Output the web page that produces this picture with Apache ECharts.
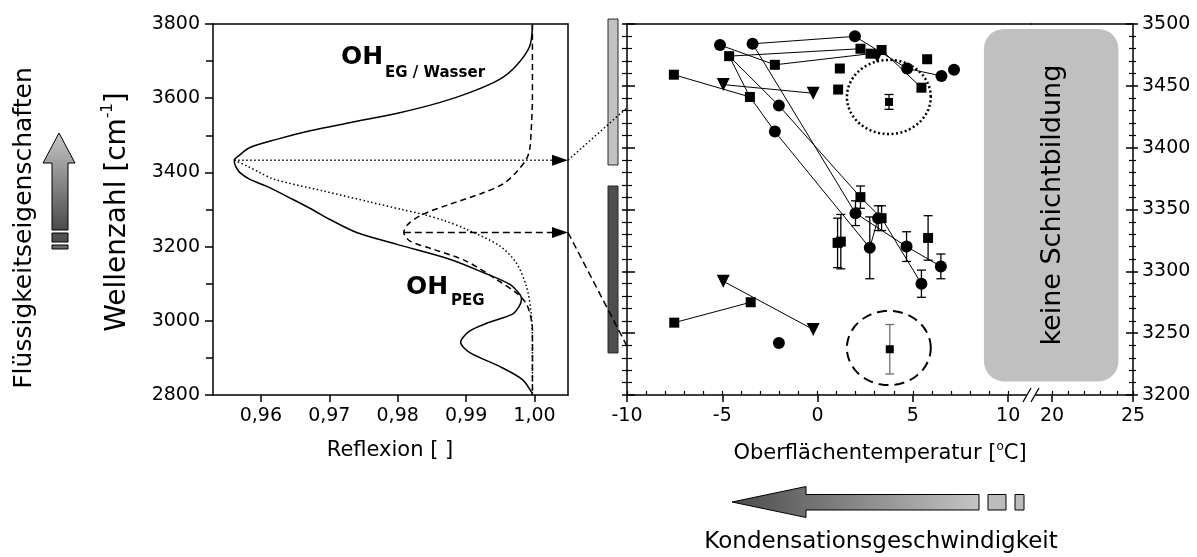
<!DOCTYPE html>
<html>
<head>
<meta charset="utf-8">
<script src="https://cdn.jsdelivr.net/npm/echarts@6/dist/echarts.min.js"></script>
<style>
html, body { margin: 0; padding: 0; background: #fff; }
#c { width: 1197px; height: 557px; }
</style>
</head>
<body>
<div id="c"></div>
<script>
const FONT = '"DejaVu Sans", Verdana, sans-serif';

// Reflection spectrum of the condensate film: [wavenumber cm^-1, reflectance]
const spectrumTotal = [
  [3800, 0.9997], [3740, 0.9993], [3687, 0.9973], [3651, 0.9949], [3615, 0.9905],
  [3588, 0.9861], [3561, 0.9803], [3534, 0.9730], [3512, 0.9672], [3489, 0.9623],
  [3467, 0.9584], [3444, 0.9567], [3433, 0.9561], [3417, 0.9563], [3400, 0.9569],
  [3381, 0.9584], [3363, 0.9608], [3327, 0.9647], [3300, 0.9675], [3273, 0.9701],
  [3238, 0.9740], [3206, 0.9799], [3166, 0.9876], [3131, 0.9924], [3098, 0.9964],
  [3070, 0.9979], [3058, 0.9981], [3040, 0.9978], [3018, 0.9968], [2996, 0.9934],
  [2972, 0.9905], [2942, 0.9892], [2915, 0.9905], [2877, 0.9949], [2842, 0.9982],
  [2807, 0.9996], [2800, 0.9997]
];
// OH band of PEG
const bandPEG = [
  [3800, 0.9997], [3600, 0.9997], [3507, 0.9995], [3462, 0.9993], [3435, 0.9988],
  [3400, 0.9973], [3370, 0.9955], [3345, 0.9925], [3314, 0.9876], [3287, 0.9837],
  [3260, 0.9815], [3238, 0.9809], [3215, 0.9818], [3193, 0.9852], [3161, 0.9900],
  [3112, 0.9944], [3076, 0.9973], [3049, 0.9987], [3022, 0.9993], [2977, 0.9997],
  [2800, 0.9997]
];
// OH band of the ethylene glycol / water phase
const bandEGWasser = [
  [3433, 0.9561], [3417, 0.9580], [3400, 0.9598], [3381, 0.9620], [3350, 0.9691],
  [3320, 0.9760], [3300, 0.9806], [3287, 0.9837], [3270, 0.9868], [3247, 0.9900],
  [3202, 0.9949], [3157, 0.9973], [3094, 0.9988], [3022, 0.9995], [2932, 0.9997],
  [2800, 0.9997]
];
const peakEGWasser = 3433;
const peakPEG = 3238;
const reflexTicks = [0.96, 0.97, 0.98, 0.99, 1.00];
const reflexRange = [0.953, 1.0049];
const wnRangeSpectrum = [2800, 3800];

// Band position vs. surface temperature: [id, T in °C, wavenumber, error]
const circles = [
  ['c1', -5.12, 3483, 0], ['c2', -3.41, 3484, 0], ['c3', 1.96, 3490, 0],
  ['c4', -2.03, 3434, 0], ['c5', -2.24, 3413, 0], ['c6', 4.70, 3464, 0],
  ['c7', 6.50, 3458, 0], ['c8', 7.16, 3463, 0], ['c9', 1.99, 3347, 10],
  ['c10', 3.18, 3343, 10], ['c11', 2.74, 3319, 25], ['c12', 4.67, 3320, 12],
  ['c13', 6.47, 3304, 10], ['c14', 5.45, 3290, 11], ['c15', -2.03, 3242, 0]
];
const squares = [
  ['s1', -4.64, 3474, 0], ['s2', -2.24, 3467, 0], ['s3', -7.54, 3459, 0],
  ['s4', -3.55, 3441, 0], ['s5', 2.25, 3480, 0], ['s6', 2.78, 3476, 0],
  ['s7', 3.36, 3479, 0], ['s8', 1.17, 3464, 0], ['s9', 1.08, 3447, 0],
  ['s10', 5.75, 3471.5, 0], ['s11', 5.45, 3448.5, 0], ['s12', 3.75, 3437, 6],
  ['s13', 2.25, 3360, 9], ['s14', 3.36, 3343, 10], ['s15', 1.05, 3323, 20],
  ['s16', 1.22, 3324, 22], ['s17', 5.80, 3327, 18], ['s18', -3.51, 3275, 0],
  ['s19', -7.52, 3258.5, 3], ['s20', 3.79, 3237, 20]
];
const triangles = [
  ['t1', -4.95, 3451, 0], ['t2', -0.23, 3444, 0], ['t3', 3.13, 3474, 0],
  ['t4', -4.95, 3292, 0], ['t5', -0.23, 3253, 0]
];
// Measurements belonging to the same run
const links = [
  ['c2', 'c3'], ['c1', 's2'], ['s2', 's6'], ['s1', 's5'], ['s3', 's4'], ['t1', 't2'],
  ['s1', 's4'], ['s1', 'c4'], ['s4', 'c5'], ['c2', 'c9'], ['c4', 's13'], ['c5', 'c11'],
  ['s13', 's14'], ['s14', 'c14'], ['c9', 'c12'], ['c12', 'c13'], ['c11', 'c10'],
  ['c3', 'c6'], ['c6', 'c7'], ['s7', 's11'], ['s19', 's18'], ['t4', 't5']
];
// Encircled single measurements: [T centre, wavenumber centre, half width T, half height wn]
const circledGroups = [[3.74, 3441, 2.2, 30], [3.74, 3238, 2.2, 30]];
// Wavenumber ranges of the two OH bands: [from, to]
const bandRanges = [[3386, 3504], [3234, 3369]];
// Region without layer formation: [T from, T to, wn from, wn to]
const noLayerRegion = [8.73, 24.1, 3211, 3496];

const tempRangeLow = [-10, 11.2];
const tempRangeHigh = [18.7, 25];
const tempTicksLow = [-10, -5, 0, 5, 10];
const tempMinorLow = [-10, -9, -8, -7, -6, -5, -4, -3, -2, -1, 0, 1, 2, 3, 4, 5, 6, 7, 8, 9, 10];
const tempTicksHigh = [20, 25];
const tempMinorHigh = [20, 21, 22, 23, 24, 25];
const wnRangeBands = [3200, 3500];

const smallMarkIds = ['s12', 's20'];
const greyErrorIds = ['s20'];

const pointById = {};
[circles, squares, triangles].forEach(list => list.forEach(p => { pointById[p[0]] = p; }));

const black = '#000';
const labelStyle = { color: black, fontFamily: FONT, fontSize: 19 };
const plainNumber = v => String(v);
const lineOnly = (extra) => Object.assign({
  axisLine: { show: true, onZero: false, lineStyle: { color: black, width: 1.5 } },
  axisTick: { show: false }, axisLabel: { show: false }, splitLine: { show: false }
}, extra);

const grids = [
  { left: 213, top: 24, width: 355, height: 371 },
  { left: 627, top: 24, width: 404, height: 371 },
  { left: 1031, top: 24, width: 102, height: 371 },
  { left: 608, top: 24, width: 10, height: 371 }
].map(g => Object.assign({ containLabel: false, outerBoundsMode: 'none' }, g));

const xAxes = [
  { // 0: reflectance
    type: 'value', gridIndex: 0, position: 'bottom', min: reflexRange[0], max: reflexRange[1],
    axisLine: { onZero: false, lineStyle: { color: black, width: 1.5 } },
    axisTick: { show: true, length: 7, customValues: reflexTicks, lineStyle: { color: black, width: 1.5 } },
    axisLabel: Object.assign({ customValues: reflexTicks, margin: 12,
      formatter: v => v.toFixed(2).replace('.', ',') }, labelStyle),
    splitLine: { show: false }
  },
  lineOnly({ type: 'value', gridIndex: 0, position: 'top', min: reflexRange[0], max: reflexRange[1] }),
  { // 2: temperature, low part
    type: 'value', gridIndex: 1, position: 'bottom', min: tempRangeLow[0], max: tempRangeLow[1],
    axisLine: { onZero: false, lineStyle: { color: black, width: 1.5 } },
    axisTick: { show: true, length: 7, customValues: tempTicksLow, lineStyle: { color: black, width: 1.5 } },
    axisLabel: Object.assign({ customValues: tempTicksLow, margin: 12, formatter: plainNumber }, labelStyle),
    splitLine: { show: false }
  },
  { type: 'value', gridIndex: 1, position: 'bottom', min: tempRangeLow[0], max: tempRangeLow[1],
    axisLine: { show: false, onZero: false },
    axisTick: { show: true, inside: true, length: 4, customValues: tempMinorLow, lineStyle: { color: black, width: 1.2 } },
    axisLabel: { show: false }, splitLine: { show: false } },
  lineOnly({ type: 'value', gridIndex: 1, position: 'top', min: tempRangeLow[0], max: tempRangeLow[1] }),
  { // 5: temperature, high part
    type: 'value', gridIndex: 2, position: 'bottom', min: tempRangeHigh[0], max: tempRangeHigh[1],
    axisLine: { onZero: false, lineStyle: { color: black, width: 1.5 } },
    axisTick: { show: true, length: 7, customValues: tempTicksHigh, lineStyle: { color: black, width: 1.5 } },
    axisLabel: Object.assign({ customValues: tempTicksHigh, margin: 12, formatter: plainNumber }, labelStyle),
    splitLine: { show: false }
  },
  { type: 'value', gridIndex: 2, position: 'bottom', min: tempRangeHigh[0], max: tempRangeHigh[1],
    axisLine: { show: false, onZero: false },
    axisTick: { show: true, inside: true, length: 4, customValues: tempMinorHigh, lineStyle: { color: black, width: 1.2 } },
    axisLabel: { show: false }, splitLine: { show: false } },
  lineOnly({ type: 'value', gridIndex: 2, position: 'top', min: tempRangeHigh[0], max: tempRangeHigh[1] }),
  { type: 'value', gridIndex: 3, min: 0, max: 1, show: false }
];

const yAxes = [
  { // 0: wavenumber of the spectrum
    type: 'value', gridIndex: 0, position: 'left', min: wnRangeSpectrum[0], max: wnRangeSpectrum[1], interval: 200,
    axisLine: { onZero: false, lineStyle: { color: black, width: 1.5 } },
    axisTick: { show: true, length: 8, lineStyle: { color: black, width: 1.5 } },
    minorTick: { show: true, splitNumber: 2, length: 7, lineStyle: { color: black, width: 1.5 } },
    axisLabel: Object.assign({ margin: 13, showMinLabel: true, showMaxLabel: true, formatter: plainNumber }, labelStyle),
    splitLine: { show: false }, minorSplitLine: { show: false }
  },
  lineOnly({ type: 'value', gridIndex: 0, position: 'right', min: wnRangeSpectrum[0], max: wnRangeSpectrum[1] }),
  { // 2: band position, left side of the temperature plot
    type: 'value', gridIndex: 1, position: 'left', min: wnRangeBands[0], max: wnRangeBands[1], interval: 50,
    axisLine: { onZero: false, lineStyle: { color: black, width: 1.5 } },
    axisTick: { show: true, length: 5, lineStyle: { color: black, width: 1.5 } },
    minorTick: { show: true, splitNumber: 5, length: 5, lineStyle: { color: black, width: 1.2 } },
    axisLabel: { show: false }, splitLine: { show: false }, minorSplitLine: { show: false }
  },
  { type: 'value', gridIndex: 1, position: 'left', min: wnRangeBands[0], max: wnRangeBands[1], interval: 50,
    axisLine: { show: false, onZero: false },
    axisTick: { show: true, inside: true, length: 8, lineStyle: { color: black, width: 1.5 } },
    minorTick: { show: true, splitNumber: 5, length: 5, lineStyle: { color: black, width: 1.2 } },
    axisLabel: { show: false }, splitLine: { show: false }, minorSplitLine: { show: false } },
  { // 4: band position, right side with labels
    type: 'value', gridIndex: 2, position: 'right', min: wnRangeBands[0], max: wnRangeBands[1], interval: 50,
    axisLine: { onZero: false, lineStyle: { color: black, width: 1.5 } },
    axisTick: { show: true, length: 5, lineStyle: { color: black, width: 1.5 } },
    minorTick: { show: true, splitNumber: 5, length: 3, lineStyle: { color: black, width: 1.2 } },
    axisLabel: Object.assign({ margin: 9, showMinLabel: true, showMaxLabel: true, formatter: plainNumber }, labelStyle),
    splitLine: { show: false }, minorSplitLine: { show: false }
  },
  { type: 'value', gridIndex: 2, position: 'right', min: wnRangeBands[0], max: wnRangeBands[1], interval: 50,
    axisLine: { show: false, onZero: false },
    axisTick: { show: true, inside: true, length: 7, lineStyle: { color: black, width: 1.5 } },
    minorTick: { show: true, splitNumber: 5, length: 4, lineStyle: { color: black, width: 1.2 } },
    axisLabel: { show: false }, splitLine: { show: false }, minorSplitLine: { show: false } },
  { type: 'value', gridIndex: 3, min: wnRangeBands[0], max: wnRangeBands[1], show: false }
];

const toXY = list => list.map(([wn, r]) => [r, wn]);
const minReflex = list => Math.min.apply(null, list.map(p => p[1]));

const arrowData = [
  [minReflex(bandEGWasser), peakEGWasser],
  [minReflex(bandPEG), peakPEG]
];
const DOT = [1.5, 2.5];
const DASH = [7, 4];

const series = [
  { type: 'line', xAxisIndex: 0, yAxisIndex: 0, data: toXY(spectrumTotal), smooth: 0.3,
    showSymbol: false, symbol: 'none', lineStyle: { color: black, width: 1.5 }, z: 3 },
  { type: 'line', xAxisIndex: 0, yAxisIndex: 0, data: toXY(bandPEG), smooth: 0.3,
    showSymbol: false, symbol: 'none', lineStyle: { color: black, width: 1.5, type: [6, 4] }, z: 3 },
  { type: 'line', xAxisIndex: 0, yAxisIndex: 0, data: toXY(bandEGWasser), smooth: 0.3,
    showSymbol: false, symbol: 'none', lineStyle: { color: black, width: 1.5, type: DOT }, z: 3 },
  { // band maxima pointing to the right plot
    type: 'custom', xAxisIndex: 0, yAxisIndex: 0, clip: false, z: 4,
    data: arrowData,
    renderItem(params, api) {
      const a = api.coord([api.value(0), api.value(1)]);
      const b = api.coord([reflexRange[1], api.value(1)]);
      const head = 16, hw = 5.5;
      const dash = params.dataIndex === 0 ? DOT : DASH;
      return { type: 'group', children: [
        { type: 'line', shape: { x1: a[0], y1: a[1], x2: b[0] - head, y2: b[1] },
          style: { stroke: black, lineWidth: 1.5, lineDash: dash } },
        { type: 'polygon', shape: { points: [[b[0], b[1]], [b[0] - head, b[1] - hw], [b[0] - head, b[1] + hw]] },
          style: { fill: black } }
      ] };
    }
  },
  { // wavenumber ranges of the bands
    type: 'custom', xAxisIndex: 8, yAxisIndex: 6, clip: false, z: 2,
    data: bandRanges,
    renderItem(params, api) {
      const p1 = api.coord([0, api.value(1)]);
      const p2 = api.coord([1, api.value(0)]);
      return { type: 'rect', shape: { x: p1[0], y: p1[1], width: p2[0] - p1[0], height: p2[1] - p1[1] },
        style: { fill: params.dataIndex === 0 ? '#c2c2c2' : '#4d4d4d', stroke: '#2a2a2a', lineWidth: 1 } };
    }
  },
  { // encircled measurements
    type: 'custom', xAxisIndex: 2, yAxisIndex: 2, z: 2,
    data: circledGroups,
    renderItem(params, api) {
      const cx = api.value(0), cy = api.value(1), rx = api.value(2), ry = api.value(3);
      const pts = [];
      for (let k = 0; k <= 90; k++) {
        const t = k / 90 * Math.PI * 2;
        pts.push(api.coord([cx + rx * Math.cos(t), cy + ry * Math.sin(t)]));
      }
      const dotted = params.dataIndex === 0;
      return { type: 'polyline', shape: { points: pts },
        style: { stroke: black, fill: null, lineWidth: dotted ? 2.5 : 2, lineDash: dotted ? [2, 2.5] : [10, 6] } };
    }
  },
  { type: 'lines', coordinateSystem: 'cartesian2d', xAxisIndex: 2, yAxisIndex: 2, z: 3, silent: true,
    symbol: 'none',
    lineStyle: { color: black, width: 1, opacity: 1, curveness: 0 },
    data: links.map(([a, b]) => ({ coords: [[pointById[a][1], pointById[a][2]], [pointById[b][1], pointById[b][2]]] })) },
  { // error bars
    type: 'custom', xAxisIndex: 2, yAxisIndex: 2, z: 4,
    data: [].concat(circles, squares, triangles).filter(p => p[3] > 0)
      .map(p => [p[1], p[2], p[3], greyErrorIds.includes(p[0]) ? 1 : 0]),
    encode: { x: 0, y: 1 },
    renderItem(params, api) {
      const x = api.value(0), y = api.value(1), e = api.value(2);
      const top = api.coord([x, y + e]), bot = api.coord([x, y - e]);
      const hw = 4.5;
      const st = { stroke: api.value(3) ? '#6e6e6e' : black, lineWidth: 1.3 };
      return { type: 'group', children: [
        { type: 'line', shape: { x1: top[0], y1: top[1], x2: bot[0], y2: bot[1] }, style: st },
        { type: 'line', shape: { x1: top[0] - hw, y1: top[1], x2: top[0] + hw, y2: top[1] }, style: st },
        { type: 'line', shape: { x1: bot[0] - hw, y1: bot[1], x2: bot[0] + hw, y2: bot[1] }, style: st }
      ] };
    }
  },
  { type: 'scatter', xAxisIndex: 2, yAxisIndex: 2, z: 5, symbol: 'circle',
    itemStyle: { color: black, opacity: 1 },
    data: circles.map(p => ({ value: [p[1], p[2]], symbolSize: 12 })) },
  { type: 'scatter', xAxisIndex: 2, yAxisIndex: 2, z: 5, symbol: 'rect',
    itemStyle: { color: black, opacity: 1 },
    data: squares.map(p => ({ value: [p[1], p[2]], symbolSize: smallMarkIds.includes(p[0]) ? 8 : 10 })) },
  { type: 'scatter', xAxisIndex: 2, yAxisIndex: 2, z: 5, symbol: 'triangle', symbolRotate: 180,
    itemStyle: { color: black, opacity: 1 },
    data: triangles.map(p => ({ value: [p[1], p[2]], symbolSize: 13 })) }
];

const chart = echarts.init(document.getElementById('c'), null, { renderer: 'canvas' });
chart.setOption({
  animation: false,
  backgroundColor: '#fff',
  grid: grids,
  xAxis: xAxes,
  yAxis: yAxes,
  series: series
});

// Decorations that need pixel positions from several coordinate systems
const specPx = v => chart.convertToPixel({ xAxisIndex: 0, yAxisIndex: 0 }, v);
const lowPx = v => chart.convertToPixel({ xAxisIndex: 2, yAxisIndex: 2 }, v);
const highPx = v => chart.convertToPixel({ xAxisIndex: 5, yAxisIndex: 4 }, v);

const elements = [];

// connectors from the spectrum to the band position axis
[[peakEGWasser, DOT], [peakPEG, DASH]].forEach(([wn, dash]) => {
  const a = specPx([reflexRange[1], wn]);
  const b = lowPx([tempRangeLow[0], wn]);
  elements.push({ type: 'line', z: 20, shape: { x1: a[0], y1: a[1], x2: b[0] + 1, y2: b[1] },
    style: { stroke: black, lineWidth: 1.5, lineDash: dash } });
});

// region without layer formation
const r1 = lowPx([noLayerRegion[0], noLayerRegion[3]]);
const r2 = highPx([noLayerRegion[1], noLayerRegion[2]]);
elements.push({ type: 'rect', z: 1, shape: { x: r1[0], y: r1[1], width: r2[0] - r1[0], height: r2[1] - r1[1], r: 20 },
  style: { fill: '#c0c0c0' } });
elements.push({ type: 'text', z: 2, x: (r1[0] + r2[0]) / 2 + 2, y: (r1[1] + r2[1]) / 2, rotation: Math.PI / 2,
  style: { text: 'keine Schichtbildung', fill: black, font: '27px ' + FONT, align: 'center', verticalAlign: 'middle' } });

// axis break marks
const br = lowPx([tempRangeLow[1], wnRangeBands[0]]);
elements.push({ type: 'rect', z: 20, shape: { x: br[0] - 4, y: br[1] - 3, width: 8, height: 6 }, style: { fill: '#fff' } });
[-4, 4].forEach(dx => {
  elements.push({ type: 'line', z: 21, shape: { x1: br[0] + dx - 4, y1: br[1] + 7, x2: br[0] + dx + 4, y2: br[1] - 7 },
    style: { stroke: black, lineWidth: 1.3 } });
});

// band labels in the spectrum
const bold = size => 'bold ' + size + 'px ' + FONT;
elements.push({ type: 'text', z: 10, x: 341, y: 57, style: { text: 'OH', fill: black, font: bold(25), verticalAlign: 'middle' } });
elements.push({ type: 'text', z: 10, x: 385, y: 73, style: { text: 'EG / Wasser', fill: black, font: bold(15), verticalAlign: 'middle' } });
elements.push({ type: 'text', z: 10, x: 406, y: 287, style: { text: 'OH', fill: black, font: bold(25), verticalAlign: 'middle' } });
elements.push({ type: 'text', z: 10, x: 451, y: 301, style: { text: 'PEG', fill: black, font: bold(15), verticalAlign: 'middle' } });

// axis titles
elements.push({ type: 'text', z: 10, x: 118, y: 212, rotation: Math.PI / 2,
  style: { text: '{a|Wellenzahl [cm}{s|-1}{a|]}', align: 'center', verticalAlign: 'middle',
    rich: { a: { fontSize: 28, fontFamily: FONT, fill: black, lineHeight: 35 },
            s: { fontSize: 15, fontFamily: FONT, fill: black, verticalAlign: 'top', lineHeight: 35 } } } });
elements.push({ type: 'text', z: 10, x: 24, y: 228, rotation: Math.PI / 2,
  style: { text: 'Flüssigkeitseigenschaften', fill: black, font: '25px ' + FONT, align: 'center', verticalAlign: 'middle' } });
elements.push({ type: 'text', z: 10, x: 390, y: 451,
  style: { text: 'Reflexion [ ]', fill: black, font: '21px ' + FONT, align: 'center', verticalAlign: 'middle' } });
elements.push({ type: 'text', z: 10, x: 880, y: 454,
  style: { text: '{a|Oberflächentemperatur [}{s|o}{a|C]}', align: 'center', verticalAlign: 'middle',
    rich: { a: { fontSize: 21, fontFamily: FONT, fill: black, lineHeight: 26 },
            s: { fontSize: 12, fontFamily: FONT, fill: black, verticalAlign: 'top', lineHeight: 26 } } } });
elements.push({ type: 'text', z: 10, x: 881, y: 542,
  style: { text: 'Kondensationsgeschwindigkeit', fill: black, font: '23px ' + FONT, align: 'center', verticalAlign: 'middle' } });

// arrow: liquid properties (upwards)
elements.push({ type: 'polygon', z: 10,
  shape: { points: [[59, 133], [75, 163], [68, 163], [68, 230], [52, 230], [52, 163], [43, 163]] },
  style: { fill: { type: 'linear', x: 0, y: 0, x2: 0, y2: 1,
    colorStops: [{ offset: 0, color: '#c6c6c6' }, { offset: 1, color: '#4a4a4a' }] }, stroke: black, lineWidth: 1 } });
elements.push({ type: 'rect', z: 10, shape: { x: 52, y: 233, width: 16, height: 9 }, style: { fill: '#505050', stroke: black, lineWidth: 1 } });
elements.push({ type: 'rect', z: 10, shape: { x: 52, y: 245, width: 16, height: 4 }, style: { fill: '#6a6a6a', stroke: black, lineWidth: 1 } });

// arrow: condensation rate (to the left)
elements.push({ type: 'polygon', z: 10,
  shape: { points: [[732, 502], [806, 486.5], [806, 494.5], [979, 494.5], [979, 510], [806, 510], [806, 517.5]] },
  style: { fill: { type: 'linear', x: 0, y: 0, x2: 1, y2: 0,
    colorStops: [{ offset: 0, color: '#4a4a4a' }, { offset: 1, color: '#c4c4c4' }] }, stroke: black, lineWidth: 1 } });
elements.push({ type: 'rect', z: 10, shape: { x: 988, y: 494.5, width: 18, height: 15.5 }, style: { fill: '#bcbcbc', stroke: black, lineWidth: 1 } });
elements.push({ type: 'rect', z: 10, shape: { x: 1015, y: 494.5, width: 9, height: 15.5 }, style: { fill: '#bcbcbc', stroke: black, lineWidth: 1 } });

chart.setOption({ graphic: { elements: elements } });
</script>
</body>
</html>
